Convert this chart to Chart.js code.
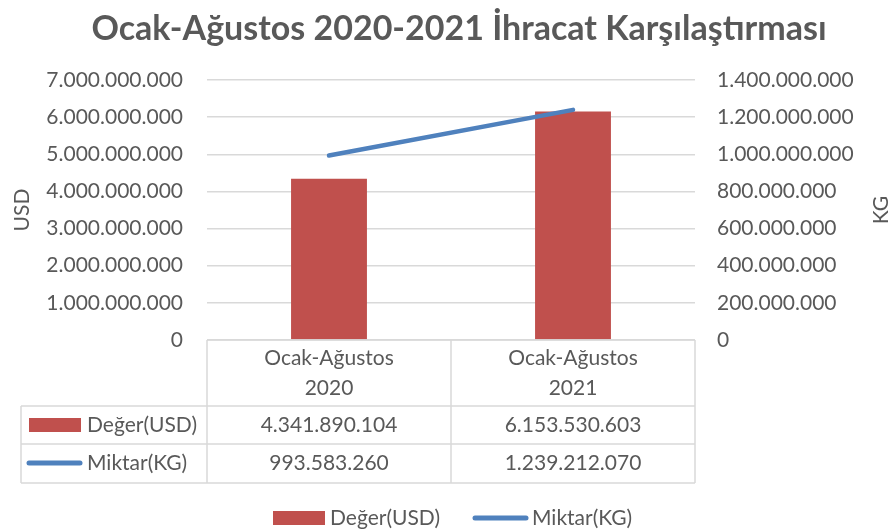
<!DOCTYPE html>
<html lang="tr">
<head>
<meta charset="utf-8">
<title>Ocak-Ağustos 2020-2021 İhracat Karşılaştırması</title>
<script src="https://cdn.jsdelivr.net/npm/chart.js@4.4.0/dist/chart.umd.min.js"></script>
<style>
    html, body { margin: 0; padding: 0; background: #ffffff; }
    canvas { display: block; }
</style>
</head>
<body>
<canvas id="ihracatChart" width="891" height="531"></canvas>
<script>
const chartTitle = 'Ocak-Ağustos 2020-2021 İhracat Karşılaştırması';
const categories = [['Ocak-Ağustos', '2020'], ['Ocak-Ağustos', '2021']];
const seriesNames = ['Değer(USD)', 'Miktar(KG)'];
const degerUsd = [4341890104, 6153530603];
const miktarKg = [993583260, 1239212070];
const usdTicks = { min: 0, max: 7000000000, step: 1000000000 };
const kgTicks = { min: 0, max: 1400000000, step: 200000000 };

const TEXT = '#595959';
const GRID = '#d9d9d9';
const RED = '#C0504D';
const BLUE = '#4F81BD';
const FONT = 'Lato, "Open Sans", sans-serif';

// 1234567 -> "1.234.567"
function formatTr(value) {
    return Math.round(value).toString().replace(/\B(?=(\d{3})+(?!\d))/g, '.');
}

// title, axis titles, data table and legend are drawn here
const extrasPlugin = {
    id: 'extras',
    afterDraw(chart) {
        const ctx = chart.ctx;
        const area = chart.chartArea;
        const xScale = chart.scales.x;
        ctx.save();

        // title
        ctx.fillStyle = TEXT;
        ctx.font = 'bold 34px ' + FONT;
        ctx.textAlign = 'center';
        ctx.textBaseline = 'middle';
        ctx.fillText(chartTitle, 459, 29);

        // axis titles (both read bottom to top)
        ctx.font = '21px ' + FONT;
        [['USD', 22], ['KG', 881]].forEach(([txt, x]) => {
            ctx.save();
            ctx.translate(x, 210);
            ctx.rotate(-Math.PI / 2);
            ctx.fillText(txt, 0, 0);
            ctx.restore();
        });

        // data table
        const tableLeft = 21;
        const rowTop = area.bottom;
        const rowHead = 406;
        const row1 = 444;
        const rowEnd = 483;
        const mid = (xScale.getPixelForValue(0) + xScale.getPixelForValue(1)) / 2;

        ctx.strokeStyle = GRID;
        ctx.lineWidth = 1.5;
        ctx.beginPath();
        ctx.moveTo(area.left, rowTop); ctx.lineTo(area.right, rowTop);
        [rowHead, row1, rowEnd].forEach(y => {
            ctx.moveTo(tableLeft, y); ctx.lineTo(area.right, y);
        });
        [area.left, mid, area.right].forEach(x => {
            ctx.moveTo(x, rowTop); ctx.lineTo(x, rowEnd);
        });
        ctx.moveTo(tableLeft, rowHead); ctx.lineTo(tableLeft, rowEnd);
        ctx.stroke();

        ctx.fillStyle = TEXT;
        ctx.font = '21px ' + FONT;
        ctx.textAlign = 'center';
        categories.forEach((lines, i) => {
            const x = xScale.getPixelForValue(i);
            ctx.fillText(lines[0], x, 358);
            ctx.fillText(lines[1], x, 388);
            ctx.fillText(formatTr(degerUsd[i]), x, 425);
            ctx.fillText(formatTr(miktarKg[i]), x, 463);
        });

        // row keys
        ctx.fillStyle = RED;
        ctx.fillRect(29, 418, 52, 14);
        ctx.strokeStyle = BLUE;
        ctx.lineWidth = 5;
        ctx.lineCap = 'round';
        ctx.beginPath();
        ctx.moveTo(29, 463); ctx.lineTo(80, 463);
        ctx.stroke();
        ctx.fillStyle = TEXT;
        ctx.textAlign = 'left';
        ctx.fillText(seriesNames[0], 87, 425);
        ctx.fillText(seriesNames[1], 87, 463);

        // legend
        ctx.fillStyle = RED;
        ctx.fillRect(273, 511, 52, 14);
        ctx.strokeStyle = BLUE;
        ctx.beginPath();
        ctx.moveTo(475, 518); ctx.lineTo(526, 518);
        ctx.stroke();
        ctx.fillStyle = TEXT;
        ctx.fillText(seriesNames[0], 330, 518);
        ctx.fillText(seriesNames[1], 532, 518);

        ctx.restore();
    }
};

function renderChart() {
    const ctx = document.getElementById('ihracatChart').getContext('2d');

    new Chart(ctx, {
        type: 'bar',
        data: {
            labels: categories,
            datasets: [
                {
                    label: seriesNames[1],
                    type: 'line',
                    data: miktarKg,
                    yAxisID: 'y1',
                    borderColor: BLUE,
                    borderWidth: 4.5,
                    borderCapStyle: 'round',
                    pointRadius: 0,
                    fill: false,
                    order: 0
                },
                {
                    label: seriesNames[0],
                    data: degerUsd,
                    yAxisID: 'y',
                    backgroundColor: RED,
                    borderWidth: 0,
                    categoryPercentage: 0.311,
                    barPercentage: 1,
                    order: 1
                }
            ]
        },
        options: {
            responsive: false,
            animation: false,
            layout: { padding: { top: 80, bottom: 191, left: 0, right: 0 } },
            plugins: {
                legend: { display: false },
                title: { display: false },
                tooltip: { enabled: false }
            },
            scales: {
                x: {
                    display: false,
                    offset: true
                },
                y: {
                    position: 'left',
                    min: usdTicks.min,
                    max: usdTicks.max,
                    border: { display: false },
                    grid: { color: GRID, lineWidth: 1.5, drawTicks: false },
                    ticks: {
                        stepSize: usdTicks.step,
                        padding: 24,
                        color: TEXT,
                        font: { family: FONT, size: 21 },
                        callback: v => formatTr(v)
                    },
                    afterFit: scale => { scale.width = 207; }
                },
                y1: {
                    position: 'right',
                    min: kgTicks.min,
                    max: kgTicks.max,
                    border: { display: false },
                    grid: { display: false, drawTicks: false },
                    ticks: {
                        stepSize: kgTicks.step,
                        padding: 22,
                        color: TEXT,
                        font: { family: FONT, size: 21 },
                        callback: v => formatTr(v)
                    },
                    afterFit: scale => { scale.width = 196; }
                }
            }
        },
        plugins: [extrasPlugin]
    });
}

document.addEventListener('DOMContentLoaded', renderChart);
</script>
</body>
</html>
